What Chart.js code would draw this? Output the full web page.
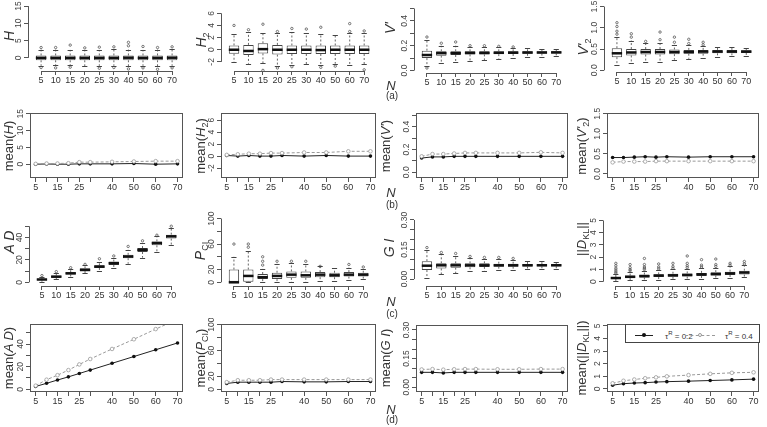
<!DOCTYPE html>
<html>
<head>
<meta charset="utf-8">
<script src="https://cdn.jsdelivr.net/npm/chart.js@4.4.1/dist/chart.umd.min.js"></script>
<style>
body{margin:0;background:#fff;width:767px;height:427px;overflow:hidden;position:relative;font-family:"Liberation Sans",Arial,sans-serif;color:#333}
canvas{position:absolute}
.yt{position:absolute;transform:translate(-50%,-50%) rotate(-90deg);white-space:nowrap;font-size:13px;color:#333;line-height:1}
.yt.big{font-size:14px}
.yt sub{font-size:9px;vertical-align:-3px}
.lab{position:absolute;transform:translate(-50%,-50%);line-height:1;color:#333;white-space:nowrap}
.nlab{font-size:13px;font-style:italic}
.plab{font-size:10px}
#leg{position:absolute;left:625px;top:324px;width:135px;height:19px;box-sizing:border-box;border:1px solid #444;background:#fff;z-index:5}
#leg span{position:absolute}
.ls{top:10px;height:0;width:18px}
.solid{border-top:1px solid #222}
.dash{border-top:1px dashed #999;width:30px}
.pt{top:8px;width:4px;height:4px;border-radius:50%;margin-left:-2px;box-sizing:border-box}
.fill{background:#111}
.open{border:1px solid #999;background:#fff}
.lt{top:5px;font-size:8px;color:#333}
.lt sup{font-size:6px}
</style>
</head>
<body>
<div id="fig"></div>
<div id="leg">
<span class="ls solid" style="left:9px"></span><span class="pt fill" style="left:18px"></span>
<span class="lt" style="left:39px">τ<sup>R</sup> = 0.2</span>
<span class="ls dash" style="left:59px"></span><span class="pt open" style="left:74px"></span>
<span class="lt" style="left:99px">τ<sup>R</sup> = 0.4</span>
</div>
<script>
const N = [5,10,15,20,25,30,40,50,60,70]

// boxplots: [lower whisker, Q1, median, Q3, upper whisker]
const boxH = [[-2.3,-0.7,0,0.7,2.4],[-2.2,-0.7,0,0.7,2.4],[-2.2,-0.7,0,0.7,2.3],[-2.4,-0.7,0,0.7,2.3],[-2.3,-0.7,0,0.7,2.3],[-2.3,-0.7,0,0.7,2.5],[-2.4,-0.7,0.05,0.7,2.4],[-2.3,-0.7,0,0.7,2.3],[-2.4,-0.7,0,0.7,2.4],[-2.3,-0.7,0.05,0.7,2.5]]
const outH = [[5,3],[5,-2.8],[10,3],[10,-2.9],[15,3.7],[15,-2.7],[20,2.9],[25,3.1],[25,-3],[30,3.2],[30,-2.8],[40,4.5],[40,3.5],[40,-3.2],[50,3.3],[50,-2.9],[60,3],[60,-3.3],[70,3.2],[70,-2.9]]

const boxH2 = [[-2.05,-0.66,0,0.71,2.65],[-2.3,-0.85,-0.2,0.8,2.9],[-2.2,-0.6,0.1,1.06,2.8],[-2.7,-0.8,0,0.8,2.7],[-2.5,-0.7,0,0.7,2.9],[-2.4,-0.7,0,0.7,2.7],[-2.5,-0.7,-0.05,0.7,2.6],[-2.3,-0.7,0,0.7,2.5],[-2.5,-0.7,0,0.7,2.8],[-2.4,-0.7,0,0.7,2.8]]
const outH2 = [[5,4],[10,3.3],[15,4.2],[15,-3.4],[20,3],[20,-3],[25,3.5],[25,-2.8],[30,3.4],[40,3.7],[40,-2.9],[50,-2.7],[60,4.3],[60,3],[70,3.1],[70,-3.3]]

const boxV = [[0.035,0.1,0.125,0.16,0.25],[0.06,0.12,0.14,0.155,0.2],[0.07,0.125,0.14,0.155,0.2],[0.08,0.13,0.142,0.155,0.19],[0.085,0.13,0.142,0.155,0.19],[0.095,0.132,0.143,0.155,0.19],[0.1,0.133,0.144,0.155,0.185],[0.105,0.135,0.145,0.155,0.18],[0.11,0.137,0.145,0.155,0.175],[0.115,0.138,0.146,0.155,0.175]]
const outV = [[5,0.27],[5,0.02],[10,0.22],[15,0.23],[20,0.2],[25,0.2],[30,0.195],[40,0.19]]

const boxV2 = [[0.12,0.31,0.4,0.52,0.79],[0.18,0.35,0.42,0.5,0.7],[0.2,0.37,0.43,0.5,0.65],[0.2,0.37,0.43,0.5,0.65],[0.25,0.38,0.43,0.49,0.6],[0.27,0.39,0.43,0.48,0.6],[0.3,0.39,0.44,0.48,0.58],[0.32,0.4,0.44,0.48,0.55],[0.33,0.4,0.44,0.48,0.55],[0.33,0.41,0.44,0.47,0.53]]
const outV2 = [[5,0.85],[5,0.92],[5,1.03],[5,1.12],[10,0.78],[10,0.86],[15,0.68],[20,0.72],[20,0.9],[25,0.66],[25,0.78],[30,0.63],[30,0.73],[40,0.6],[40,0.66]]

const boxAD = [[0.5,1.8,2.5,3.2,5],[2.5,4.2,5,6,8.5],[5,7,8,9,11.5],[8,10,11,12.5,15],[10,12.8,14,15.2,18.5],[13,15.5,17,18.5,22],[16.5,21.5,23,24.5,29],[22,27,29,30.5,35],[27,33,35,36.5,41],[33,39,41,42.5,48]]
const outAD = [[5,6],[10,9.5],[15,13],[20,16],[25,21],[30,23.5],[40,32],[50,37],[60,42],[70,50]]

const boxP = [[0,0,0,20,40],[0,1,10,20,49],[0,5,8,13,21],[0,5,10,15,29],[0,7,12,17,30],[0,7,11,17,28],[2,8,12,16,25],[2,8,11,15,22],[4,9,12,16,23],[5,9,12,15,21]]
const outP = [[5,60],[10,55],[10,60],[15,27],[15,33],[15,40],[20,33],[25,33],[30,33],[40,25],[60,28],[70,24]]

const boxGI = [[0.005,0.046,0.068,0.091,0.15],[0.025,0.054,0.07,0.08,0.125],[0.03,0.058,0.07,0.08,0.115],[0.04,0.06,0.07,0.08,0.105],[0.04,0.062,0.07,0.08,0.1],[0.045,0.063,0.07,0.078,0.1],[0.045,0.063,0.07,0.078,0.095],[0.05,0.064,0.07,0.077,0.09],[0.05,0.065,0.07,0.076,0.09],[0.052,0.065,0.07,0.076,0.088]]
const outGI = [[5,0.16],[10,0.135],[15,0.13],[20,0.115],[25,0.11],[30,0.11],[40,0.105]]

const boxD = [[0.05,0.22,0.3,0.38,0.6],[0.1,0.3,0.4,0.5,0.8],[0.15,0.35,0.45,0.58,0.9],[0.15,0.38,0.5,0.6,0.95],[0.2,0.4,0.52,0.65,1.0],[0.2,0.42,0.55,0.68,1.05],[0.25,0.47,0.6,0.72,1.1],[0.3,0.5,0.62,0.78,1.15],[0.3,0.55,0.68,0.82,1.25],[0.35,0.58,0.75,0.9,1.35]]
const outD = [[5,0.7],[5,0.8],[5,0.95],[5,1.1],[5,1.3],[5,1.5],[10,0.9],[10,1.0],[10,1.15],[10,1.4],[15,1.0],[15,1.1],[15,1.2],[15,1.4],[15,1.9],[20,1.05],[20,1.2],[20,1.45],[25,1.1],[25,1.25],[25,1.5],[30,1.15],[30,1.3],[30,1.5],[30,2.1],[40,1.2],[40,1.35],[40,1.8],[50,1.25],[50,1.4],[50,1.85],[60,1.35],[60,1.5],[70,1.45],[70,1.65]]

// means, tau^R = 0.2 (solid) and 0.4 (dashed)
const meanH_02 = [0.0,0.05,0.0,0.0,0.1,0.1,0.1,0.2,0.0,0.1]
const meanH_04 = [0.1,0.2,0.2,0.3,0.6,0.6,0.7,0.8,0.9,0.9]
const meanH2_02 = [0.1,0.0,0.1,0.0,0.0,0.1,0.0,0.1,0.0,0.0]
const meanH2_04 = [0.2,0.3,0.4,0.4,0.5,0.5,0.6,0.6,0.8,0.8]
const meanV_02 = [0.125,0.135,0.135,0.14,0.14,0.14,0.14,0.14,0.14,0.14]
const meanV_04 = [0.14,0.16,0.16,0.165,0.17,0.17,0.17,0.17,0.175,0.17]
const meanV2_02 = [0.41,0.41,0.42,0.43,0.42,0.43,0.42,0.43,0.43,0.43]
const meanV2_04 = [0.29,0.31,0.31,0.31,0.32,0.32,0.32,0.32,0.32,0.32]
const meanAD_02 = [2.5,5.3,8.2,11,14,17,23,29,35,41]
const meanAD_04 = [3.2,8.5,12.5,17,22,26.8,35.7,44.3,53.3,62]
const meanP_02 = [9,11,11,11,11,12,11.5,11.5,12,12]
const meanP_04 = [11,14,14,14,15,15,15,15,15,15]
const meanGI_02 = [0.078,0.078,0.075,0.078,0.078,0.078,0.078,0.078,0.078,0.078]
const meanGI_04 = [0.093,0.095,0.092,0.094,0.095,0.095,0.094,0.094,0.095,0.095]
const meanD_02 = [0.3,0.42,0.47,0.5,0.55,0.58,0.62,0.67,0.72,0.78]
const meanD_04 = [0.45,0.65,0.75,0.85,0.92,1.0,1.1,1.2,1.28,1.32]

// y ticks (all marks) and which of them carry a label
const tH = [0,5,10,15], tH2 = [-2,0,2,4,6]
const tV = [0,0.1,0.2,0.3,0.4,0.5], lV = [0,0.2,0.4]
const tV2 = [0,0.5,1,1.5]
const tAD = [0,10,20,30,40,50], lAD = [0,20,40]
const tP = [0,20,40,60,80,100], lP = [0,20,60,100]
const tGI = [0,0.05,0.1,0.15,0.2,0.25,0.3], lGI = [0,0.15,0.3]
const tD = [0,1,2,3,4,5]

const panels = [
{kind:"box", area:[28,4,186,71], y:[-3.8,15.6], ticks:tH, shown:tH, dec:0, stats:boxH, out:outH},
{kind:"box", area:[221,6,378,70.5], y:[-3.5,7.2], ticks:tH2, shown:tH2, dec:0, stats:boxH2, out:outH2},
{kind:"box", area:[414,6,570,72.5], y:[-0.02,0.52], ticks:tV, shown:lV, dec:1, stats:boxV, out:outV},
{kind:"box", area:[604,4,760,71.5], y:[-0.04,1.56], ticks:tV2, shown:tV2, dec:1, stats:boxV2, out:outV2},
{kind:"mean", area:[30,113,184,178], y:[-4.1,15.2], ticks:tH, shown:tH, dec:0, s1:meanH_02, s2:meanH_04},
{kind:"mean", area:[221,113,377,178], y:[-3.66,7.2], ticks:tH2, shown:tH2, dec:0, s1:meanH2_02, s2:meanH2_04},
{kind:"mean", area:[416,113,569,178], y:[-0.05,0.52], ticks:tV, shown:lV, dec:1, s1:meanV_02, s2:meanV_04},
{kind:"mean", area:[607,113,760,178], y:[-0.1,1.52], ticks:tV2, shown:tV2, dec:1, s1:meanV2_02, s2:meanV2_04},
{kind:"box", area:[29,224,185,286], y:[-3.3,52], ticks:tAD, shown:lAD, dec:0, stats:boxAD, out:outAD},
{kind:"box", area:[221,216,377,286], y:[-5.8,104], ticks:tP, shown:lP, dec:0, stats:boxP, out:outP},
{kind:"box", area:[414,218,570,286], y:[-0.035,0.31], ticks:tGI, shown:lGI, dec:2, stats:boxGI, out:outGI},
{kind:"box", area:[603,218,758,286], y:[-0.35,5.2], ticks:tD, shown:tD, dec:0, stats:boxD, out:outD},
{kind:"mean", area:[30,324,184,392], y:[-2.4,57.8], ticks:tAD, shown:lAD, dec:0, s1:meanAD_02, s2:meanAD_04},
{kind:"mean", area:[221,324,377,392], y:[-4.2,101], ticks:tP, shown:lP, dec:0, s1:meanP_02, s2:meanP_04},
{kind:"mean", area:[416,325,569,392], y:[-0.025,0.326], ticks:tGI, shown:lGI, dec:2, s1:meanGI_02, s2:meanGI_04},
{kind:"mean", area:[607,324,760,392], y:[-0.24,5.15], ticks:tD, shown:tD, dec:0, s1:meanD_02, s2:meanD_04}
]

const titles = [
[9,36,"<i>H</i>",1],[202,40,"<i>H</i><sub>2</sub>",1],[390,28,"<i>V'</i>",1],[584,47,"<i>V'</i><sub>2</sub>",1],
[8,146,"mean(<i>H</i>)",0],[202,146,"mean(<i>H</i><sub>2</sub>)",0],[385,146,"mean(<i>V'</i>)",0],[583,146,"mean(<i>V'</i><sub>2</sub>)",0],
[9,242,"<i>A D</i>",1],[201,251,"<i>P</i><sub>CI</sub>",1],[389,248,"<i>G I</i>",1],[583,239,"||<i>D</i><sub>KL</sub>||",0],
[8,358,"mean(<i>A D</i>)",0],[202,358,"mean(<i>P</i><sub>CI</sub>)",0],[385,358,"mean(<i>G I</i>)",0],[583,358,"mean(||<i>D</i><sub>KL</sub>||)",0]
]
const rowTags = [[85,96,"(a)"],[192,205,"(b)"],[301,314,"(c)"],[409,420,"(d)"]]

const fig = document.getElementById("fig")

// R style axes: lines over the tick range (or a full frame), rotated y labels
function axesPlugin(p){
return {
id:"rAxes",
afterDraw(chart){
const ctx = chart.ctx
const a = chart.chartArea
const x = chart.scales.x
const y = chart.scales.y
ctx.save()
ctx.strokeStyle = "#555"
ctx.lineWidth = 1
if(p.kind === "mean"){
ctx.strokeRect(Math.round(a.left)+0.5, Math.round(a.top)+0.5, Math.round(a.right-a.left)-1, Math.round(a.bottom-a.top)-1)
}else{
const yt = y.ticks, xt = x.ticks
ctx.beginPath()
ctx.moveTo(Math.round(a.left)+0.5, y.getPixelForValue(yt[0].value))
ctx.lineTo(Math.round(a.left)+0.5, y.getPixelForValue(yt[yt.length-1].value))
ctx.moveTo(x.getPixelForValue(xt[0].value), Math.round(a.bottom)+0.5)
ctx.lineTo(x.getPixelForValue(xt[xt.length-1].value), Math.round(a.bottom)+0.5)
ctx.stroke()
}
ctx.fillStyle = "#444"
ctx.font = '8.5px "Liberation Sans"'
ctx.textAlign = "center"
ctx.textBaseline = "bottom"
y.ticks.forEach(t=>{
if(!t.label) return
ctx.save()
ctx.translate(a.left-5, y.getPixelForValue(t.value))
ctx.rotate(-Math.PI/2)
ctx.fillText(t.label, 0, 0)
ctx.restore()
})
ctx.restore()
}
}
}

// whiskers, staples and medians on top of the floating bars
function boxPlugin(p){
return {
id:"rBox",
afterDatasetsDraw(chart){
if(p.kind !== "box") return
const ctx = chart.ctx
const x = chart.scales.x
const y = chart.scales.y
const bars = chart.getDatasetMeta(0).data
ctx.save()
p.stats.forEach((s,i)=>{
const cx = x.getPixelForValue(i+1)
const w = bars[i].width
ctx.strokeStyle = "#666"
ctx.lineWidth = 1
ctx.setLineDash([2,2])
ctx.beginPath()
ctx.moveTo(cx, y.getPixelForValue(s[3]))
ctx.lineTo(cx, y.getPixelForValue(s[4]))
ctx.moveTo(cx, y.getPixelForValue(s[1]))
ctx.lineTo(cx, y.getPixelForValue(s[0]))
ctx.stroke()
ctx.setLineDash([])
ctx.strokeStyle = "#444"
ctx.beginPath()
ctx.moveTo(cx-w/4, Math.round(y.getPixelForValue(s[4]))+0.5)
ctx.lineTo(cx+w/4, Math.round(y.getPixelForValue(s[4]))+0.5)
ctx.moveTo(cx-w/4, Math.round(y.getPixelForValue(s[0]))+0.5)
ctx.lineTo(cx+w/4, Math.round(y.getPixelForValue(s[0]))+0.5)
ctx.stroke()
ctx.strokeStyle = "#111"
ctx.lineWidth = 2.5
ctx.beginPath()
ctx.moveTo(cx-w/2, y.getPixelForValue(s[2]))
ctx.lineTo(cx+w/2, y.getPixelForValue(s[2]))
ctx.stroke()
})
ctx.restore()
}
}
}

function makePanel(p){
const [l,t,r,b] = p.area
const padL = 24, padT = 6, padR = 4, padB = 18
const cv = document.createElement("canvas")
cv.width = Math.round(r-l+padL+padR)
cv.height = Math.round(b-t+padT+padB)
cv.style.left = (l-padL)+"px"
cv.style.top = (t-padT)+"px"
fig.appendChild(cv)

const isBox = p.kind === "box"
let datasets
if(isBox){
datasets = [
{type:"bar", data:p.stats.map((s,i)=>({x:i+1, y:[s[1],s[3]]})), backgroundColor:"#fff", borderColor:"#444", borderWidth:1, borderSkipped:false, barPercentage:0.9, categoryPercentage:0.8},
{type:"scatter", data:p.out.map(o=>({x:N.indexOf(o[0])+1, y:o[1]})), pointRadius:1.2, pointBorderWidth:0.8, pointBorderColor:"#555", pointBackgroundColor:"rgba(0,0,0,0)"}
]
}else{
datasets = [
{type:"line", data:N.map((n,i)=>({x:n, y:p.s2[i]})), borderColor:"#999", borderWidth:1, borderDash:[3,2], pointRadius:1.8, pointBackgroundColor:"#fff", pointBorderColor:"#999", pointBorderWidth:0.8, tension:0},
{type:"line", data:N.map((n,i)=>({x:n, y:p.s1[i]})), borderColor:"#222", borderWidth:1, pointRadius:1.8, pointBackgroundColor:"#111", pointBorderColor:"#111", pointBorderWidth:0, tension:0}
]
}

new Chart(cv,{
type:isBox ? "bar" : "line",
data:{datasets},
options:{
responsive:false,
animation:false,
events:[],
layout:{padding:{left:0, top:padT, right:padR, bottom:0}},
plugins:{legend:{display:false}, tooltip:{enabled:false}},
scales:{
x:{
type:"linear",
min:isBox ? 0.1 : 2.4,
max:isBox ? 10.9 : 72.6,
offset:false,
afterBuildTicks:s=>{ s.ticks = (isBox ? N.map((n,i)=>i+1) : N).map(v=>({value:v})) },
afterFit:s=>{ s.height = padB },
ticks:{
autoSkip:false, maxRotation:0, minRotation:0, padding:0, color:"#333",
font:{family:"Liberation Sans", size:9},
callback:v=> isBox ? String(N[v-1]) : ([10,20,30].includes(v) ? "" : String(v))
},
grid:{display:true, drawOnChartArea:false, drawTicks:true, tickLength:4, color:"#555", offset:false},
border:{display:false}
},
y:{
type:"linear",
min:p.y[0],
max:p.y[1],
afterBuildTicks:s=>{ s.ticks = p.ticks.map(v=>({value:v})) },
afterFit:s=>{ s.width = padL },
ticks:{display:false, callback:v=> p.shown.includes(v) ? v.toFixed(p.dec) : ""},
grid:{display:true, drawOnChartArea:false, drawTicks:true, tickLength:4, color:"#555"},
border:{display:false}
}
}
},
plugins:[boxPlugin(p), axesPlugin(p)]
})
}

panels.forEach(makePanel)

titles.forEach(([x,y,html,big])=>{
const d = document.createElement("div")
d.className = "yt" + (big ? " big" : "")
d.style.left = x+"px"
d.style.top = y+"px"
d.innerHTML = html
fig.appendChild(d)
})

rowTags.forEach(([ny,ty,tag])=>{
const n = document.createElement("div")
n.className = "lab nlab"
n.style.left = "391px"
n.style.top = ny+"px"
n.textContent = "N"
fig.appendChild(n)
const g = document.createElement("div")
g.className = "lab plab"
g.style.left = "392px"
g.style.top = ty+"px"
g.textContent = tag
fig.appendChild(g)
})
</script>
</body>
</html>
